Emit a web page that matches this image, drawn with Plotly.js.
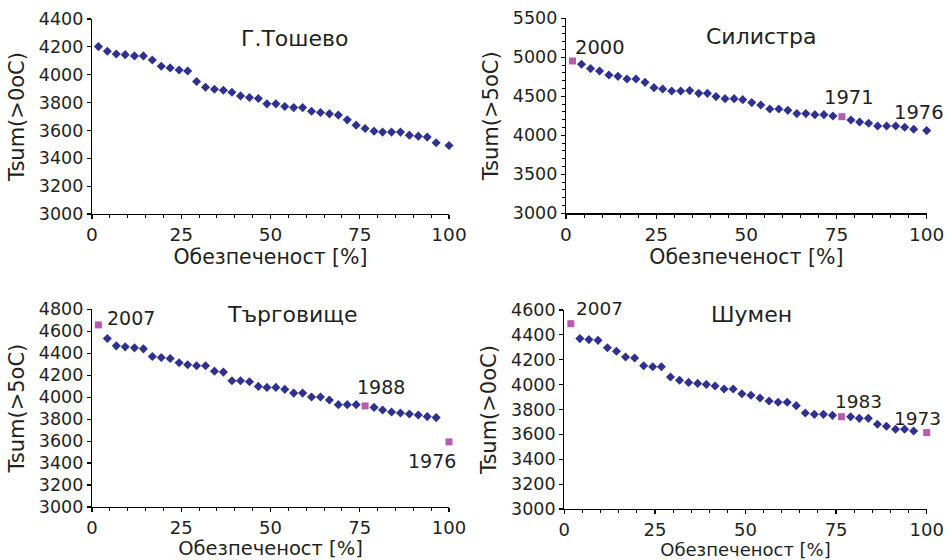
<!DOCTYPE html>
<html><head><meta charset="utf-8">
<script src="https://cdn.plot.ly/plotly-3.0.1.min.js"></script>
<style>html,body{margin:0;padding:0;background:#fff}#chart{width:952px;height:560px}</style>
</head><body><div id="chart"></div>
<script>
// Exceedance probability [%] (x positions)
const probability = [1.8,4.3,6.8,9.3,11.9,14.4,16.9,19.4,21.9,24.4,26.8,29.3,31.8,34.3,36.8,39.2,41.6,44.1,46.6,49.0,
  51.5,54.0,56.5,59.0,61.5,64.0,66.5,69.0,71.5,74.0,76.5,79.0,81.4,83.9,86.4,88.9,91.4,93.9,96.4,100];

const stations = ['Г.Тошево','Силистра','Търговище','Шумен'];
const yTitles = ['Tsum(>0oC)','Tsum(>5oC)','Tsum(>5oC)','Tsum(>0oC)'];
const xTitle = 'Обезпеченост [%]';

const tsumTosevo = [4202,4168,4149,4144,4135,4135,4106,4061,4049,4034,4027,3951,3910,3896,3889,3874,3848,3836,3829,3791,
  3791,3772,3764,3764,3738,3729,3719,3710,3676,3638,3614,3595,3588,3588,3588,3566,3559,3552,3511,3492];
const tsumSilistra = [4953,4910,4855,4825,4774,4756,4722,4722,4679,4611,4594,4568,4568,4573,4538,4538,4496,4470,4470,4457,
  4419,4389,4338,4338,4320,4278,4278,4265,4265,4248,4239,4197,4171,4154,4120,4120,4120,4103,4077,4060];
const tsumTargovishte = [4658,4534,4467,4458,4449,4440,4370,4361,4352,4313,4295,4286,4286,4237,4228,4149,4149,4140,4098,4089,
  4089,4071,4037,4037,4001,4001,3974,3932,3932,3932,3920,3907,3883,3865,3856,3847,3838,3823,3814,3593];
const tsumShumen = [4490,4370,4362,4356,4297,4268,4222,4214,4152,4144,4144,4061,4035,4018,4010,4002,3989,3965,3965,3927,
  3914,3892,3868,3858,3858,3831,3772,3761,3761,3753,3742,3742,3729,3729,3681,3665,3641,3641,3627,3614];

// highlighted (year-labelled) points: index into the series
const highlightTosevo = [];
const highlightSilistra = [0,30];
const highlightTargovishte = [0,30,39];
const highlightShumen = [0,30,39];

const yearLabelsTosevo = [];
const yearIdxTosevo = [];
const yearLabelsSilistra = ['2000','1971','1976'];
const yearIdxSilistra = [0,30,39];
const yearLabelsTargovishte = ['2007','1988','1976'];
const yearIdxTargovishte = [0,30,39];
const yearLabelsShumen = ['2007','1983','1973'];
const yearIdxShumen = [0,30,39];

const yMax = [4400,5500,4800,4600];
const yDtick = [200,500,200,200];

const series = [tsumTosevo,tsumSilistra,tsumTargovishte,tsumShumen];
const highlights = [highlightTosevo,highlightSilistra,highlightTargovishte,highlightShumen];
const yearLabels = [yearLabelsTosevo,yearLabelsSilistra,yearLabelsTargovishte,yearLabelsShumen];
const yearIdx = [yearIdxTosevo,yearIdxSilistra,yearIdxTargovishte,yearIdxShumen];

// ---- styling / layout (positions in pixels of a 952x560 canvas) ----
const W = 952, H = 560;
const FONT = 'DejaVu Sans, Liberation Sans, Arial, sans-serif';
const TXT = '#231f20';
const BLUE = '#2e318f';
const PINK = '#b85aae';
const boxes = [ // [left, right, top, bottom] in px
  [92, 449, 19, 214],
  [566, 926.7, 18.3, 213.3],
  [92, 449, 309.3, 507],
  [564.3, 926.7, 310, 509]
];
const titlePos = [[294,39],[761,36],[292,314],[751,314]];
const xTitleSize = [20.5,20.5,19.5,18];
const xTickSize = [18.5,18.5,18,18];
const xStandoff = [5,5,7,5];
const yearFont = [19,19.5,19,18.5];
const yearShift = [
  [],
  [[28,13],[7,19],[-8,18]],
  [[33,7],[16,19],[-17,-19]],
  [[29,15],[17,15],[-9,14]]
];

const data = [];
const layout = {
  width: W, height: H,
  margin: {l:0, r:0, t:0, b:0},
  paper_bgcolor: '#ffffff', plot_bgcolor: '#ffffff',
  showlegend: false,
  font: {family: FONT, color: TXT},
  annotations: []
};

series.forEach((ys, i) => {
  const n = i + 1;
  const xa = 'x' + (n === 1 ? '' : n), ya = 'y' + (n === 1 ? '' : n);
  const hl = highlights[i];
  const bx = [], by = [], px = [], py = [];
  ys.forEach((v, k) => {
    if (hl.includes(k)) { px.push(probability[k]); py.push(v); }
    else { bx.push(probability[k]); by.push(v); }
  });
  data.push({x: bx, y: by, xaxis: xa, yaxis: ya, type: 'scatter', mode: 'markers', cliponaxis: false,
    marker: {symbol: 'diamond', size: 7, color: BLUE}, name: stations[i]});
  if (px.length) data.push({x: px, y: py, xaxis: xa, yaxis: ya, type: 'scatter', mode: 'markers', cliponaxis: false,
    marker: {symbol: 'square', size: 7, color: PINK}, name: stations[i] + ' години'});

  const b = boxes[i];
  const xKey = 'xaxis' + (n === 1 ? '' : n), yKey = 'yaxis' + (n === 1 ? '' : n);
  layout[xKey] = {
    domain: [b[0]/W, b[1]/W], anchor: ya, range: [0, 100], dtick: 25, tick0: 0,
    showgrid: false, zeroline: false, showline: true, linecolor: '#000', linewidth: 1.2,
    ticks: 'outside', ticklen: 4, tickwidth: 1.2, tickcolor: '#000',
    minor: {dtick: 5, ticks: 'outside', ticklen: 3, tickcolor: '#000', tickwidth: 1},
    tickfont: {size: xTickSize[i], family: FONT, color: TXT},
    title: {text: xTitle, font: {size: xTitleSize[i], family: FONT, color: TXT}, standoff: xStandoff[i]},
    fixedrange: true
  };
  const yax = {
    domain: [1 - b[3]/H, 1 - b[2]/H], anchor: xa, range: [3000, yMax[i]], dtick: yDtick[i], tick0: 3000,
    showgrid: false, zeroline: false, showline: true, linecolor: '#000', linewidth: 1.2,
    ticks: 'outside', ticklen: 4, tickwidth: 1.2, tickcolor: '#000',
    tickfont: {size: 17.5, family: FONT, color: TXT},
    title: {text: yTitles[i], font: {size: 21, family: FONT, color: TXT}, standoff: 8},
    fixedrange: true
  };
  if (i === 1) yax.minor = {dtick: 100, ticks: 'outside', ticklen: 3, tickcolor: '#000', tickwidth: 1};
  layout[yKey] = yax;

  layout.annotations.push({
    xref: 'paper', yref: 'paper', x: titlePos[i][0]/W, y: 1 - titlePos[i][1]/H,
    xanchor: 'center', yanchor: 'middle', showarrow: false,
    text: stations[i], font: {size: 22, family: FONT, color: TXT}
  });
  yearLabels[i].forEach((lab, j) => {
    const k = yearIdx[i][j];
    layout.annotations.push({
      xref: xa, yref: ya, x: probability[k], y: ys[k], text: lab, showarrow: false,
      xanchor: 'center', yanchor: 'middle', xshift: yearShift[i][j][0], yshift: yearShift[i][j][1],
      font: {size: yearFont[i], family: FONT, color: TXT}
    });
  });
});

Plotly.newPlot('chart', data, layout, {staticPlot: true, displayModeBar: false});
</script>
</body></html>
